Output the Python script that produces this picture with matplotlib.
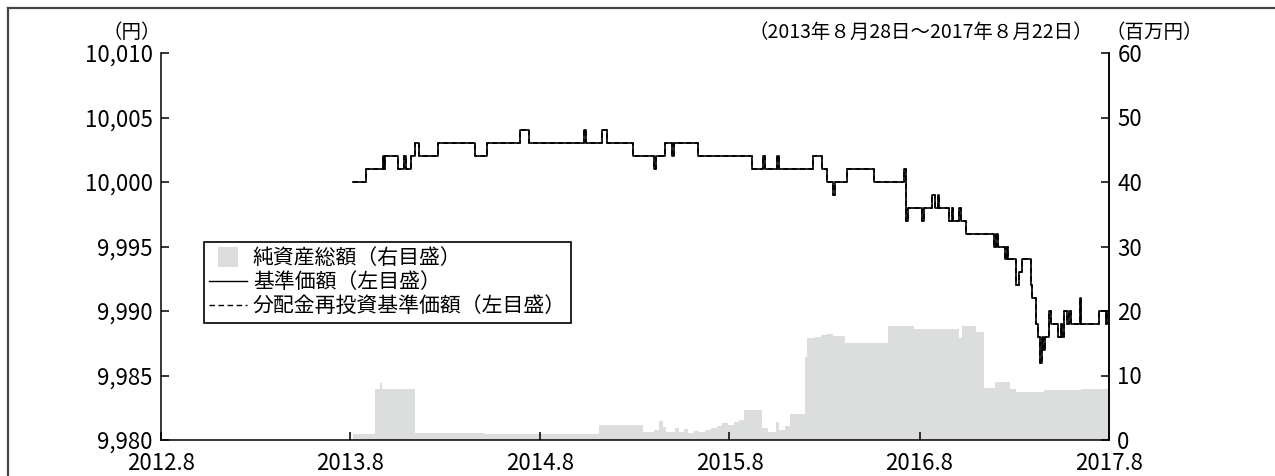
import matplotlib
matplotlib.use("Agg")
import matplotlib.pyplot as plt
import matplotlib.patches as mpatches
import matplotlib.ticker as mticker
from matplotlib.lines import Line2D
from matplotlib.legend_handler import HandlerPatch
import pandas as pd

plt.rcParams['font.family'] = ['Noto Sans CJK JP', 'DejaVu Sans']

# 基準価額 (円) - step changes
price_dates = [
    "2013-08-28", "2013-09-23", "2013-10-26", "2013-10-28", "2013-10-30", "2013-11-24",
    "2013-12-05", "2013-12-08", "2013-12-19", "2013-12-27", "2014-01-03", "2014-02-09",
    "2014-04-21", "2014-05-13", "2014-07-17", "2014-08-03", "2014-11-17", "2014-11-20",
    "2014-12-21", "2014-12-31", "2015-02-20", "2015-04-01", "2015-04-04", "2015-04-22",
    "2015-05-06", "2015-05-09", "2015-06-24", "2015-10-07", "2015-10-28", "2015-10-31",
    "2015-11-24", "2015-11-28", "2016-02-01", "2016-02-19", "2016-02-27", "2016-03-11",
    "2016-03-14", "2016-04-07", "2016-05-28", "2016-07-26", "2016-07-29", "2016-08-01",
    "2016-08-29", "2016-09-01", "2016-09-18", "2016-09-22", "2016-09-28", "2016-10-01",
    "2016-10-20", "2016-10-26", "2016-10-28", "2016-11-09", "2016-11-12", "2016-11-21",
    "2017-01-14", "2017-01-18", "2017-01-22", "2017-02-05", "2017-02-09", "2017-02-11",
    "2017-02-25", "2017-03-03", "2017-03-10", "2017-03-26", "2017-03-28", "2017-04-05",
    "2017-04-10", "2017-04-14", "2017-04-16", "2017-04-19", "2017-04-23", "2017-04-30",
    "2017-05-04", "2017-05-18", "2017-05-24", "2017-05-26", "2017-05-29", "2017-06-04",
    "2017-06-07", "2017-06-11", "2017-06-29", "2017-07-01", "2017-08-05", "2017-08-18",
    "2017-08-21", "2017-08-22",
]
price_vals = [
    10000, 10001, 10002, 10001, 10002, 10001,
    10002, 10001, 10002, 10003, 10002, 10003,
    10002, 10003, 10004, 10003, 10004, 10003,
    10004, 10003, 10002, 10001, 10002, 10003,
    10002, 10003, 10002, 10001, 10002, 10001,
    10002, 10001, 10002, 10001, 10000, 9999,
    10000, 10001, 10000, 10001, 9997, 9998,
    9997, 9998, 9999, 9998, 9999, 9998,
    9997, 9998, 9997, 9998, 9997, 9996,
    9995, 9996, 9995, 9994, 9995, 9994,
    9992, 9993, 9994, 9992, 9991, 9989,
    9988, 9986, 9988, 9987, 9988, 9990,
    9989, 9988, 9989, 9988, 9990, 9989,
    9990, 9989, 9991, 9989, 9990, 9989,
    9990, 9990,
]
# no distributions were paid, so the reinvested price is the same
reinvest_vals = list(price_vals)

# 純資産総額 (百万円)
nav_dates = [
    "2013-08-28", "2013-10-11", "2013-10-19", "2013-10-23", "2013-12-27", "2014-05-08",
    "2014-12-16", "2015-03-10", "2015-04-01", "2015-04-10", "2015-04-17", "2015-04-23",
    "2015-04-30", "2015-05-11", "2015-05-18", "2015-05-29", "2015-06-05", "2015-06-16",
    "2015-06-27", "2015-07-08", "2015-07-19", "2015-07-30", "2015-08-10", "2015-08-21",
    "2015-09-01", "2015-09-12", "2015-09-20", "2015-10-25", "2015-11-06", "2015-11-21",
    "2015-11-28", "2015-12-09", "2015-12-18", "2016-01-16", "2016-01-21", "2016-02-05",
    "2016-02-16", "2016-02-26", "2016-03-10", "2016-04-03", "2016-06-24", "2016-08-14",
    "2016-11-09", "2016-11-13", "2016-12-10", "2016-12-26", "2017-01-17", "2017-02-14",
    "2017-02-26", "2017-04-21", "2017-07-01", "2017-08-22",
]
nav_vals = [
    1.0, 7.9, 8.8, 7.9, 1.1, 1.0,
    2.3, 1.2, 1.6, 3.0, 2.0, 1.2,
    1.3, 1.9, 1.2, 1.7, 1.1, 1.4,
    1.2, 1.6, 1.9, 2.2, 2.6, 2.3,
    2.8, 3.1, 4.7, 1.8, 1.3, 2.8,
    1.6, 2.2, 4.1, 12.9, 15.8, 16.0,
    16.3, 16.4, 16.2, 15.1, 17.6, 17.2,
    15.8, 17.7, 16.8, 8.1, 9.0, 7.9,
    7.5, 7.8, 7.9, 7.9,
]

tick_dates = ["2012-08-24", "2013-08-24", "2014-08-24", "2015-08-24", "2016-08-24", "2017-08-24"]
tick_labels = ["2012.8", "2013.8", "2014.8", "2015.8", "2016.8", "2017.8"]
left_ticks = [9980, 9985, 9990, 9995, 10000, 10005, 10010]
right_ticks = [0, 10, 20, 30, 40, 50, 60]

labels = ["純資産総額（右目盛）", "基準価額（左目盛）", "分配金再投資基準価額（左目盛）"]

area_color = "#dcdddd"
W, H = 1275, 476

fig = plt.figure(figsize=(W / 100, H / 100), dpi=100)
ax = fig.add_axes([161 / W, 1 - 440 / H, (1109 - 161) / W, (440 - 53) / H])
ax2 = ax.twinx()
ax.set_zorder(2)
ax2.set_zorder(1)
ax.patch.set_visible(False)

pd_price = pd.to_datetime(price_dates)
pd_nav = pd.to_datetime(nav_dates)

ax2.fill_between(pd_nav, nav_vals, 0, step='post', color=area_color, lw=0)
ax.step(pd_price, price_vals, where='post', color='black', lw=1.2)
ax.step(pd_price, reinvest_vals, where='post', color='black', lw=1.2, ls=(0, (3, 2)))

ax.set_xlim(pd.Timestamp(tick_dates[0]), pd.Timestamp(tick_dates[-1]))
ax.set_ylim(9980, 10010)
ax2.set_ylim(0, 60)

ax.set_xticks(pd.to_datetime(tick_dates))
ax.set_xticklabels(tick_labels)
ax.set_yticks(left_ticks)
ax.yaxis.set_major_formatter(mticker.FuncFormatter(lambda v, p: f"{int(v):,}"))
ax2.set_yticks(right_ticks)

ax.tick_params(axis='both', direction='in', length=6, width=1.1, labelsize=16, pad=6)
ax.tick_params(axis='x', pad=8.5)
ax.tick_params(axis='y', right=False)
ax2.tick_params(axis='y', direction='in', length=6, width=1.1, labelsize=16, pad=6)

ax.spines['top'].set_visible(False)
for sp in ['top', 'left', 'bottom']:
    ax2.spines[sp].set_visible(False)
for sp in ['left', 'bottom', 'right']:
    ax.spines[sp].set_linewidth(1.1)
ax2.spines['right'].set_linewidth(1.1)


def square_patch(legend, orig_handle, xdescent, ydescent, width, height, fontsize):
    s = height * 1.35
    return mpatches.Rectangle((-xdescent + (width - s) / 2, -ydescent + (height - s) / 2), s, s)


handles = [
    mpatches.Patch(facecolor=area_color, edgecolor='none'),
    Line2D([], [], color='black', lw=1.0),
    Line2D([], [], color='black', lw=1.0, ls=(0, (4, 2.5))),
]
leg = ax.legend(handles, labels, loc='upper left',
                bbox_to_anchor=(204 / W, 1 - 242 / H), bbox_transform=fig.transFigure,
                fontsize=15, frameon=True, fancybox=False, edgecolor='black', framealpha=1,
                borderpad=0.25, labelspacing=0.1, handlelength=1.8, handletextpad=0.3,
                borderaxespad=0, handler_map={mpatches.Patch: HandlerPatch(patch_func=square_patch)})
leg.get_frame().set_linewidth(1.2)

ty = 1 - 32 / H
fig.text(132 / W, ty, "（円）", ha='center', va='center', fontsize=14)
fig.text(1093 / W, ty, "（2013年８月28日～2017年８月22日）", ha='right', va='center', fontsize=14)
fig.text(1154 / W, ty, "（百万円）", ha='center', va='center', fontsize=14)

# outer frame (only left and top edges fall inside the picture)
fig.add_artist(Line2D([7.5 / W, 7.5 / W], [0, 1 - 7.5 / H], transform=fig.transFigure, color='#444444', lw=1.6))
fig.add_artist(Line2D([7.5 / W, 1], [1 - 7.5 / H, 1 - 7.5 / H], transform=fig.transFigure, color='#444444', lw=1.6))

fig.savefig("out.png", dpi=100)
